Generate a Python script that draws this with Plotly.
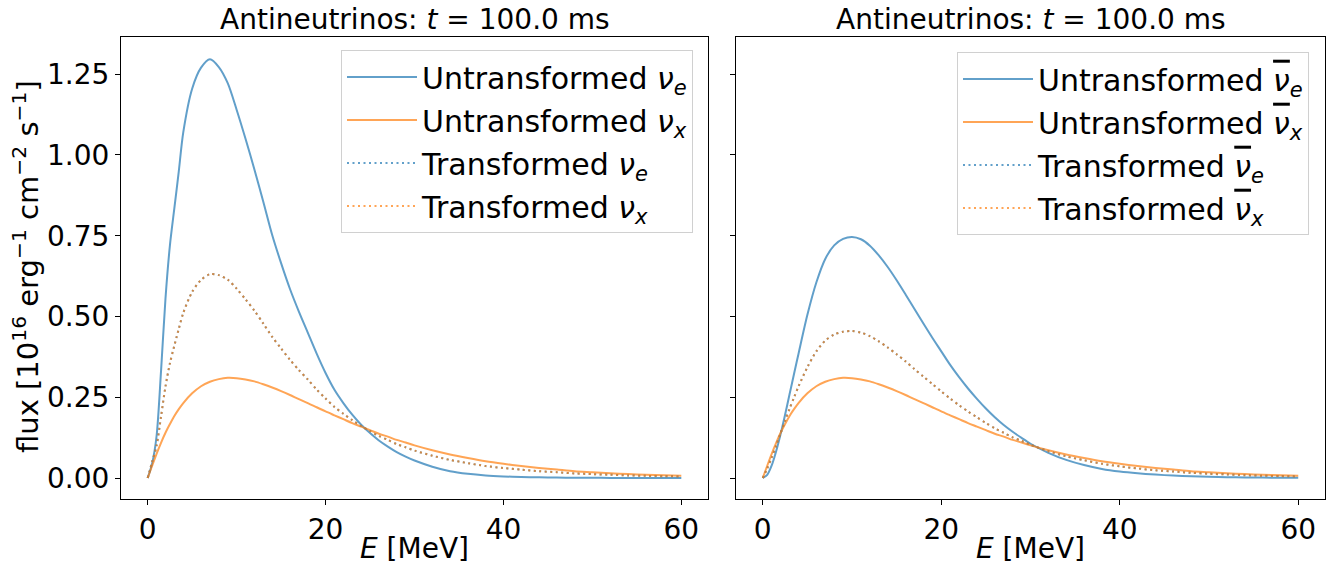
import plotly.graph_objects as go

# Energy grid [MeV]
energy = [0, 0.5, 1, 1.5, 2, 2.5, 3, 3.5, 4, 5, 6, 7, 8, 9, 10, 11, 12, 13, 14, 15,
          16, 17, 18, 19, 20, 21, 22, 23, 24, 25, 26, 27, 28, 29, 30, 32, 34, 36, 38, 40,
          42, 44, 46, 48, 50, 52, 54, 56, 58, 60]

# Left panel (neutrinos)
untrans_nue = [0, 0.045, 0.13, 0.33, 0.555, 0.72, 0.835, 0.95, 1.07,
               1.205, 1.27, 1.296, 1.272, 1.222, 1.14, 1.05, 0.955, 0.855, 0.752, 0.665,
               0.585, 0.515, 0.45, 0.385, 0.325, 0.273, 0.232, 0.196, 0.165, 0.139,
               0.116, 0.097, 0.08, 0.066, 0.054,
               0.035, 0.021, 0.013, 0.008, 0.005, 0.003, 0.002, 0.0012, 0.0008, 0.0005,
               0.0003, 0.0002, 0.0001, 0.0001, 0.0]
untrans_nux = [0, 0.038, 0.075, 0.109, 0.140, 0.167, 0.192, 0.213, 0.232,
               0.262, 0.284, 0.298, 0.306, 0.310, 0.309, 0.305, 0.299, 0.290, 0.280, 0.269,
               0.257, 0.244, 0.232, 0.219, 0.206, 0.194, 0.182, 0.170, 0.159, 0.148,
               0.137, 0.128, 0.118, 0.110, 0.101,
               0.086, 0.073, 0.062, 0.052, 0.044, 0.037, 0.031, 0.026, 0.021, 0.018,
               0.015, 0.012, 0.010, 0.0084, 0.0069]
trans_nue = [0, 0.05, 0.10, 0.19, 0.283, 0.355, 0.41, 0.462, 0.511,
             0.576, 0.613, 0.631, 0.628, 0.614, 0.586, 0.553, 0.518, 0.478, 0.437, 0.401,
             0.366, 0.334, 0.305, 0.274, 0.246, 0.220, 0.199, 0.179, 0.161, 0.145,
             0.130, 0.118, 0.105, 0.095, 0.085,
             0.069, 0.056, 0.046, 0.037, 0.031, 0.026, 0.021, 0.018, 0.014, 0.012,
             0.010, 0.008, 0.0067, 0.0056, 0.0046]
trans_nux = list(trans_nue)

# Right panel (antineutrinos)
untrans_anue = [0, 0.010, 0.039, 0.083, 0.136, 0.196, 0.259, 0.322, 0.384,
                0.505, 0.605, 0.678, 0.720, 0.740, 0.746, 0.739, 0.719, 0.689, 0.653, 0.612,
                0.568, 0.523, 0.478, 0.434, 0.392, 0.350, 0.312, 0.277, 0.245, 0.215,
                0.188, 0.164, 0.143, 0.124, 0.106,
                0.078, 0.056, 0.040, 0.028, 0.020, 0.0145, 0.0105, 0.0075, 0.0053, 0.0038,
                0.0027, 0.0019, 0.0013, 0.0009, 0.0006]
untrans_anux = list(untrans_nux)
trans_anue = [0, 0.029, 0.063, 0.100, 0.139, 0.177, 0.214, 0.249, 0.283,
              0.343, 0.392, 0.425, 0.444, 0.453, 0.455, 0.450, 0.439, 0.423, 0.404, 0.383,
              0.361, 0.337, 0.314, 0.291, 0.268, 0.246, 0.225, 0.206, 0.188, 0.170,
              0.154, 0.140, 0.126, 0.115, 0.103,
              0.083, 0.067, 0.055, 0.044, 0.036, 0.0295, 0.024, 0.020, 0.016, 0.013,
              0.011, 0.0086, 0.0071, 0.0059, 0.0048]
trans_anux = list(trans_anue)

y_ticks = [0, 0.25, 0.5, 0.75, 1.0, 1.25]
x_ticks = [0, 20, 40, 60]

BLUE = "#1f77b4"
ORANGE = "#ff7f0e"
FONT = "DejaVu Sans"
FS = 28
LFS = 30
DOT = "2px,3.5px"

nu = "<i>ν</i>"
nubar = "<span style='text-decoration:overline'><i>ν</i></span>"

fig = go.Figure()

def add(x, y, name, color, dash, xa, ya, leg, grp):
    fig.add_trace(go.Scatter(
        x=x, y=y, mode="lines", name=name, opacity=0.7,
        line=dict(color=color, width=2, dash=dash, shape="spline", smoothing=0.8),
        xaxis=xa, yaxis=ya, legend=leg, legendgroup=grp))

add(energy, untrans_nue, "Untransformed " + nu + "<sub><i>e</i></sub>", BLUE, "solid", "x", "y", "legend", "a")
add(energy, untrans_nux, "Untransformed " + nu + "<sub><i>x</i></sub>", ORANGE, "solid", "x", "y", "legend", "b")
add(energy, trans_nue, "Transformed " + nu + "<sub><i>e</i></sub>", BLUE, DOT, "x", "y", "legend", "c")
add(energy, trans_nux, "Transformed " + nu + "<sub><i>x</i></sub>", ORANGE, DOT, "x", "y", "legend", "d")

add(energy, untrans_anue, "Untransformed " + nubar + "<sub><i>e</i></sub>", BLUE, "solid", "x2", "y2", "legend2", "e")
add(energy, untrans_anux, "Untransformed " + nubar + "<sub><i>x</i></sub>", ORANGE, "solid", "x2", "y2", "legend2", "f")
add(energy, trans_anue, "Transformed " + nubar + "<sub><i>e</i></sub>", BLUE, DOT, "x2", "y2", "legend2", "g")
add(energy, trans_anux, "Transformed " + nubar + "<sub><i>x</i></sub>", ORANGE, DOT, "x2", "y2", "legend2", "h")

axis_common = dict(showline=True, mirror=True, linecolor="black", linewidth=1,
                   ticks="outside", ticklen=5, tickwidth=1, tickcolor="black",
                   showgrid=False, zeroline=False,
                   tickfont=dict(family=FONT, size=FS, color="black"))

L, R, T, B = 121, 5, 37, 66
W, H = 1330, 565
PW = W - L - R
PH = H - T - B

def px(xp):
    return (xp - L) / PW

def py(yp):
    return (H - B - yp) / PH

legend_common = dict(font=dict(family=FONT, size=LFS, color="black"),
                     bgcolor="rgba(255,255,255,0.8)", bordercolor="#d0d0d0", borderwidth=1,
                     xanchor="right", yanchor="top", tracegroupgap=1, itemwidth=70,
                     traceorder="grouped")

fig.update_layout(
    width=W, height=H,
    margin=dict(l=L, r=R, t=T, b=B),
    plot_bgcolor="white", paper_bgcolor="white",
    font=dict(family=FONT, size=FS, color="black"),
    xaxis=dict(domain=[0, px(708)], range=[-3, 63], tickvals=x_ticks,
               ticktext=[str(v) for v in x_ticks], **axis_common),
    xaxis2=dict(domain=[px(736), 1], range=[-3, 63], tickvals=x_ticks,
                ticktext=[str(v) for v in x_ticks], anchor="y2", **axis_common),
    yaxis=dict(range=[-0.065, 1.365], tickvals=y_ticks,
               ticktext=[f"{v:.2f}" for v in y_ticks], **axis_common),
    yaxis2=dict(range=[-0.065, 1.365], tickvals=y_ticks, showticklabels=False,
                anchor="x2", matches="y", **axis_common),
    legend=dict(x=px(693), y=py(50), **legend_common),
    legend2=dict(x=px(1309), y=py(52), **legend_common),
    showlegend=True,
)

title_txt = "Antineutrinos: <i>t</i> = 100.0 ms"
ann = [
    dict(text=title_txt, x=(px(121) + px(708)) / 2, y=py(20), size=FS),
    dict(text=title_txt, x=(px(736) + px(1325)) / 2, y=py(20), size=FS),
    dict(text="<i>E</i> [MeV]", x=(px(121) + px(708)) / 2, y=py(548), size=FS),
    dict(text="<i>E</i> [MeV]", x=(px(736) + px(1325)) / 2, y=py(548), size=FS),
    dict(text="flux [10<sup>16</sup> erg<sup>−1</sup> cm<sup>−2</sup> s<sup>−1</sup>]",
         x=px(26), y=py(267), textangle=-90, size=29),
]
for a in ann:
    s = a.pop("size")
    fig.add_annotation(xref="paper", yref="paper", showarrow=False,
                       xanchor="center", yanchor="middle",
                       font=dict(family=FONT, size=s, color="black"), **a)

fig.write_html("out.html")
